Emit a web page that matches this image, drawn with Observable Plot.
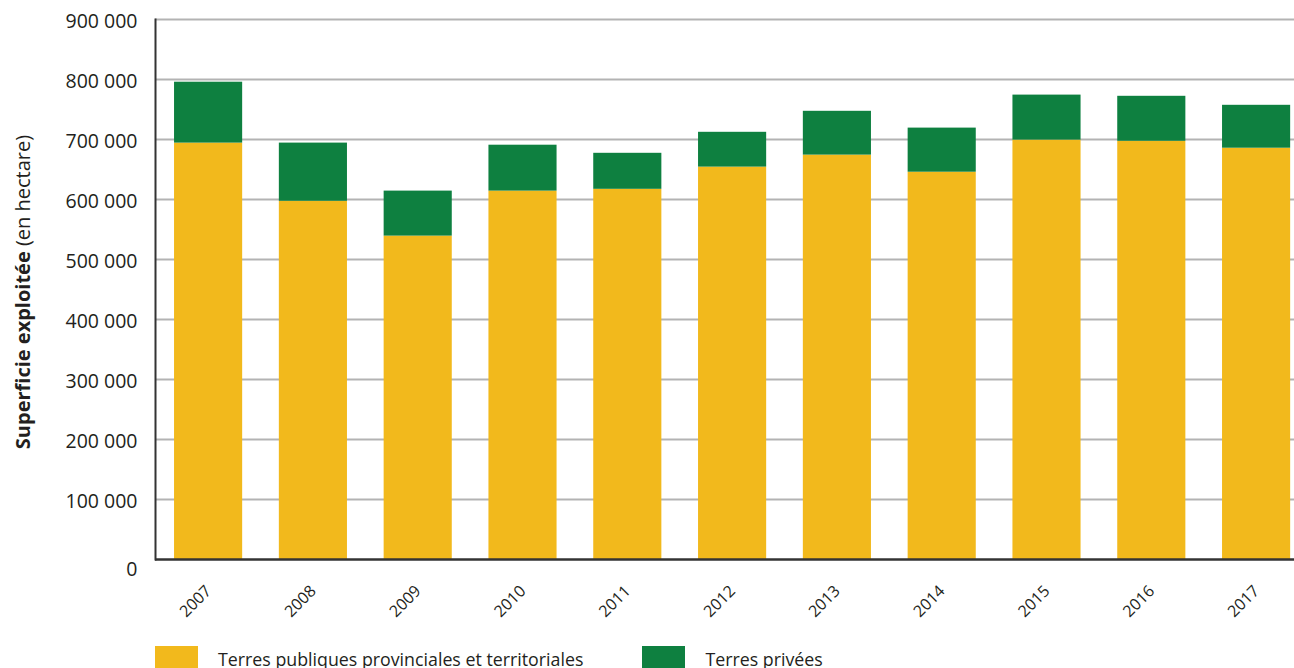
<!DOCTYPE html>
<html>
<head>
<meta charset="utf-8">
<script src="https://cdn.jsdelivr.net/npm/d3@7"></script>
<script src="https://cdn.jsdelivr.net/npm/@observablehq/plot@0.6"></script>
<style>
  body { margin: 0; background: #fff; font-family: "Open Sans", sans-serif; color: #231f20; }
  #legend { display: flex; align-items: flex-start; margin-top: 6px; margin-left: 155px; font-size: 17.8px; }
  .item { display: flex; align-items: center; }
  .sw { width: 43px; height: 26px; margin-right: 20px; }
</style>
</head>
<body>
<div id="chart"></div>
<div id="legend"></div>
<script>
const years = ["2007","2008","2009","2010","2011","2012","2013","2014","2015","2016","2017"];
const publicLand = [694000, 597000, 539000, 614000, 617000, 654000, 674000, 645500, 699000, 697000, 685500];
const privateLand = [101500, 97000, 75000, 76500, 60000, 58000, 73000, 73500, 75000, 75000, 71500];
const seriesNames = ["Terres publiques provinciales et territoriales", "Terres privées"];
const seriesColors = ["#f2b91c", "#0e8040"];
const yTicks = [0, 100000, 200000, 300000, 400000, 500000, 600000, 700000, 800000, 900000];

const data = [];
years.forEach((y, i) => {
  data.push({year: y, series: seriesNames[0], value: publicLand[i]});
  data.push({year: y, series: seriesNames[1], value: privateLand[i]});
});

const fmt = d => d3.format(",")(d).replace(/,/g, " ");

const chart = Plot.plot({
  width: 1294,
  height: 640,
  marginTop: 19,
  marginBottom: 81,
  marginLeft: 155,
  marginRight: 0,
  style: {fontFamily: "Open Sans", fontSize: "18px", color: "#231f20", background: "#fff"},
  x: {type: "band", domain: years, range: [155.7, 1308.5], paddingInner: 0.35, paddingOuter: 0.175, round: false, label: null},
  y: {domain: [0, 900000], label: null},
  color: {domain: seriesNames, range: seriesColors},
  marks: [
    Plot.ruleY(yTicks.filter(d => d > 0), {stroke: "#b3b3b3", strokeWidth: 2}),
    Plot.barY(data, {x: "year", y: "value", fill: "series"}),
    Plot.ruleY([0], {stroke: "#333", strokeWidth: 2.5}),
    Plot.frame({anchor: "left", stroke: "#333", strokeWidth: 2}),
    Plot.axisY(yTicks.filter(d => d > 0), {tickSize: 0, tickPadding: 18, tickFormat: fmt, fontSize: 19.5, dy: 2}),
    Plot.axisY([0], {tickSize: 0, tickPadding: 18, tickFormat: fmt, fontSize: 19.5, dy: 10}),
    Plot.axisX({tickSize: 0, tickRotate: -45, tickPadding: 14, fontSize: 16, dx: 0, dy: 15})
  ]
});
document.getElementById("chart").appendChild(chart);

// Y axis title with mixed weights
const svg = d3.select(chart);
const t = svg.append("text")
  .attr("transform", `translate(30, 292) rotate(-90)`)
  .attr("text-anchor", "middle")
  .attr("font-size", 20)
  .attr("fill", "#231f20");
t.append("tspan").attr("font-weight", "bold").text("Superficie exploitée");
t.append("tspan").text(" (en hectare)");

const legend = d3.select("#legend");
seriesNames.forEach((name, i) => {
  const it = legend.append("div").attr("class", "item").style("margin-right", i === 0 ? "59px" : "0");
  it.append("div").attr("class", "sw").style("background", seriesColors[i]);
  it.append("span").text(name);
});
</script>
</body>
</html>
